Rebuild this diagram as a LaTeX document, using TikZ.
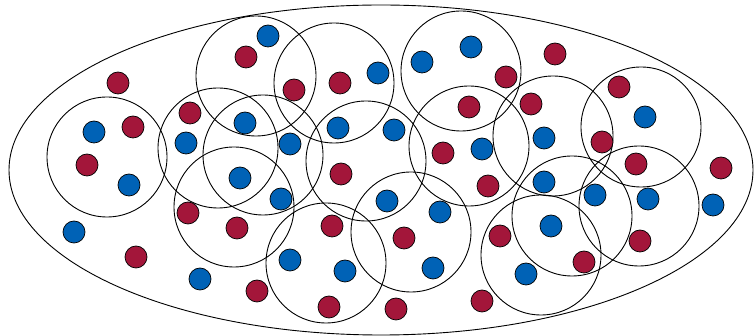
\documentclass[tikz,border=0pt]{standalone}
\usetikzlibrary{shapes.geometric}
\definecolor{dotred}{RGB}{163,22,58}
\definecolor{dotblue}{RGB}{0,98,182}
\begin{document}
\begin{tikzpicture}[x=1pt,y=-1pt,
  region/.style={draw=black,line width=0.9pt,circle,minimum size=120pt,inner sep=0pt},
  reddot/.style={draw=black,line width=0.7pt,fill=dotred,circle,minimum size=22pt,inner sep=0pt},
  bluedot/.style={draw=black,line width=0.7pt,fill=dotblue,circle,minimum size=22pt,inner sep=0pt}]
\useasboundingbox (0,0) rectangle (756,336);
\node[draw=black,line width=0.9pt,ellipse,minimum width=744pt,minimum height=330pt,inner sep=0pt] (outer) at (381,170) {};
\foreach \x/\y [count=\i] in {107/157,256/76,334/83,461/71,218/148,263/155,234/207,366/161,326/263,411/232,469/146,553/136,641/127,639/206,572/216,541/255}
  \node[region] (c\i) at (\x,\y) {};
\foreach \x/\y [count=\i] in {118/83,246/57,294/90,340/83,506/77,555/54,133/127,87/165,190/113,469/107,531/104,619/87,602/142,443/153,341/174,636/164,721/168,488/186,188/213,237/228,332/226,404/238,500/236,640/241,584/262,136/257,257/291,329/307,396/309,482/301}
  \node[reddot] (r\i) at (\x,\y) {};
\foreach \x/\y [count=\i] in {268/36,378/73,422/62,471/47,94/132,129/185,186/143,245/123,290/144,338/128,394/130,482/149,544/138,645/117,240/178,281/199,544/182,595/195,648/199,713/205,74/232,387/201,440/212,551/226,200/279,290/260,345/271,433/268,526/274}
  \node[bluedot] (b\i) at (\x,\y) {};
\end{tikzpicture}
\end{document}
